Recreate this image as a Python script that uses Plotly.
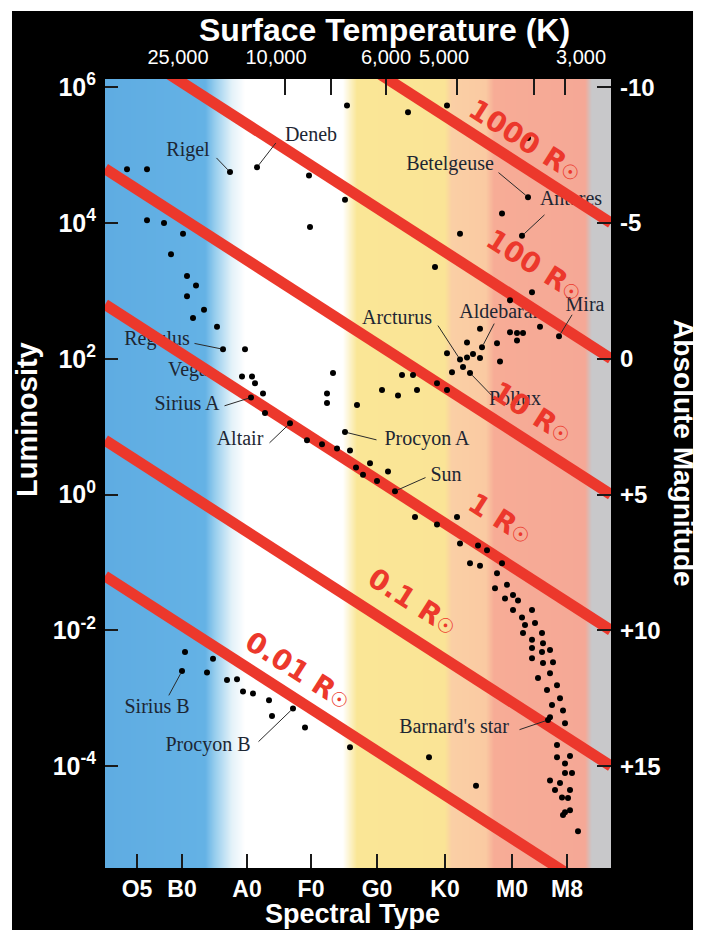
import numpy as np
import plotly.graph_objects as go

# ---------------- data ----------------
# x unit: position along the spectral-type axis (0 = left edge, 50.6 = right edge)
spectral_types = ["O5", "B0", "A0", "F0", "G0", "K0", "M0", "M8"]
spectral_pos = [3.2, 7.7, 14.2, 20.6, 27.2, 34.0, 40.7, 46.2]
temp_labels = ["25,000", "10,000", "6,000", "5,000", "3,000"]
temp_label_pos = [7.3, 17.1, 28.1, 33.9, 47.6]
temp_tick_pos = [18.0, 22.6, 28.1, 35.2, 42.9, 46.0]
lum_exponents = [6, 4, 2, 0, -2, -4]
abs_mag = [-10, -5, 0, 5, 10, 15]
abs_mag_labels = ["-10", "-5", "0", "+5", "+10", "+15"]

radii = [1000, 100, 10, 1, 0.1, 0.01]
radius_labels = ["1000", "100", "10", "1", "0.1", "0.01"]
# log10 L of the 1 R_sun line at the left and right edges of the chart
sun_line_logL_left = 2.8
sun_line_logL_right = -2.0

star_x = [2.2, 4.2, 20.4, 24.2, 24.0, 20.5, 30.3, 34.2, 42.3, 39.7, 35.5, 33.0,
          4.2, 5.9, 7.8, 6.6, 8.2, 9.1, 8.2, 9.9, 8.8, 11.2, 14.0, 14.7, 15.0, 15.8, 16.0,
          42.7, 40.5, 43.5, 37.5, 39.2, 40.5, 41.2, 41.8, 41.2, 36.2, 34.2, 36.2, 36.8, 37.5,
          35.8, 34.7, 39.5, 29.7, 30.8, 27.7, 29.3, 31.2, 33.2, 34.2, 25.2, 22.8, 22.2, 22.2,
          20.2, 21.7, 23.2, 24.5, 25.1, 25.8, 26.5, 27.2, 28.3, 31.0, 33.2, 35.2, 35.5, 37.3,
          38.2, 36.5, 37.5, 39.7, 39.2, 40.2, 39.0, 40.8, 41.3, 40.0, 40.8, 42.7, 41.7, 42.0,
          43.0, 43.7, 41.8, 42.7, 43.8, 44.5, 42.7,
          43.7, 42.7, 44.8, 43.8, 44.5, 43.3, 45.2, 44.2, 45.5, 44.7, 45.8, 44.5, 46.0, 45.2,
          45.2, 46.5, 46.0, 46.7, 46.0, 44.5, 45.5, 46.5, 45.0, 45.7, 46.3, 46.0, 46.5, 45.8, 47.3,
          32.4, 37.1, 24.5,
          8.0, 10.8, 10.2, 12.2, 13.2, 13.8, 14.8, 16.4, 16.7, 20.0]
star_logL = [4.79, 4.79, 4.70, 5.73, 4.34, 3.94, 5.63, 5.73, 5.25, 4.14, 3.84, 3.35,
             4.04, 4.00, 3.84, 3.54, 3.22, 3.08, 2.92, 2.72, 2.60, 2.47, 2.14, 1.74, 1.64, 1.49, 1.20,
             2.98, 2.86, 2.47, 2.44, 2.23, 2.39, 2.38, 2.38, 2.27, 2.24, 2.08, 2.02, 2.07, 2.01,
             1.88, 1.80, 1.96, 1.76, 1.76, 1.54, 1.46, 1.54, 1.64, 1.54, 1.32, 1.79, 1.49, 1.35,
             0.80, 0.74, 0.68, 0.65, 0.40, 0.29, 0.46, 0.20, 0.34, -0.33, -0.44, -0.33, -0.72, -0.75,
             -0.82, -1.01, -1.05, -1.01, -1.16, -1.33, -1.38, -1.48, -1.56, -1.53, -1.70, -1.70, -1.81, -1.92,
             -1.89, -2.04, -2.04, -2.14, -2.19, -2.29, -2.26,
             -2.32, -2.41, -2.47, -2.48, -2.63, -2.70, -2.81, -2.88, -3.00, -3.10, -3.18, -3.28, -3.37, -3.69,
             -3.87, -3.85, -3.96, -4.10, -4.10, -4.21, -4.25, -4.35, -4.35, -4.46, -4.47, -4.68, -4.65, -4.72, -4.96,
             -3.87, -4.29, -3.72,
             -2.32, -2.42, -2.62, -2.73, -2.72, -2.90, -2.93, -3.03, -3.26, -3.43]

named_star = ["Rigel", "Deneb", "Regulus", "Vega", "Sirius A", "Altair", "Procyon A", "Sun",
              "Betelgeuse", "Antares", "Aldebaran", "Arcturus", "Pollux", "Mira",
              "Sirius B", "Procyon B", "Barnard's star"]
named_x = [12.5, 15.2, 11.8, 13.7, 14.6, 18.5, 24.0, 29.0,
           42.3, 41.7, 37.7, 35.5, 36.5, 45.4,
           7.7, 18.8, 44.3]
named_logL = [4.75, 4.82, 2.14, 1.74, 1.43, 1.05, 0.92, 0.05,
              4.38, 3.81, 2.17, 1.99, 1.79, 2.33,
              -2.60, -3.15, -3.32]

# ---------------- layout helpers (positions of texts) ----------------
X_MAX = 50.6
LOG_BOTTOM, LOG_TOP = -5.5, 6.12
label_pos = {  # (x, log10 L) of each star-name text centre
    "Rigel": (8.3, 5.06), "Deneb": (20.6, 5.28), "Regulus": (5.2, 2.27), "Vega": (8.3, 1.82),
    "Sirius A": (8.2, 1.32), "Altair": (13.5, 0.80), "Procyon A": (32.2, 0.80), "Sun": (34.1, 0.27),
    "Betelgeuse": (34.5, 4.85), "Antares": (46.6, 4.34), "Aldebaran": (39.6, 2.67),
    "Arcturus": (29.2, 2.58), "Pollux": (41.0, 1.39), "Mira": (48.0, 2.78),
    "Sirius B": (5.2, -3.15), "Procyon B": (10.3, -3.70), "Barnard's star": (34.9, -3.44)}
pointer_tail = {
    "Rigel": (11.0, 4.98), "Deneb": (17.2, 5.20), "Regulus": (8.8, 2.23), "Sirius A": (11.8, 1.30),
    "Altair": (16.3, 0.74), "Procyon A": (27.3, 0.80), "Sun": (32.2, 0.26), "Betelgeuse": (39.2, 4.76),
    "Antares": (44.1, 4.14), "Aldebaran": (39.0, 2.54), "Arcturus": (33.2, 2.51), "Pollux": (38.8, 1.44),
    "Mira": (46.8, 2.67), "Sirius B": (6.3, -2.98), "Procyon B": (15.2, -3.66),
    "Barnard's star": (41.3, -3.47)}
radius_label_pos = [(42.0, 5.22), (43.0, 3.38), (42.7, 1.21), (39.5, -0.35), (30.7, -1.58), (19.3, -2.59)]

SANS = "Liberation Sans, Arial, sans-serif"
SERIF = "Liberation Serif, DejaVu Serif, serif"
RED = "rgb(236,56,44)"
TICKC = "#1a1a1a"

fig = go.Figure()

# background colour bands (horizontal gradient)
bg_x = np.linspace(0, X_MAX, 507)
band_scale = [
    [0.000, "rgb(95,172,226)"], [0.198, "rgb(100,178,229)"], [0.217, "rgb(150,205,238)"],
    [0.251, "rgb(228,242,249)"], [0.277, "rgb(255,255,255)"], [0.470, "rgb(255,255,255)"],
    [0.498, "rgb(250,230,150)"], [0.672, "rgb(250,228,150)"], [0.686, "rgb(250,207,165)"],
    [0.753, "rgb(250,202,162)"], [0.769, "rgb(247,172,150)"], [0.949, "rgb(245,168,150)"],
    [0.962, "rgb(200,200,202)"], [1.000, "rgb(200,200,202)"]]
fig.add_trace(go.Heatmap(x=bg_x, y=[1e-7, 1e0, 1e8], z=[bg_x, bg_x, bg_x],
                         colorscale=band_scale, zmin=0, zmax=X_MAX, showscale=False,
                         hoverinfo="skip"))

# star name labels (under the red lines)
fig.add_trace(go.Scatter(
    x=[label_pos[n][0] for n in named_star], y=[10 ** label_pos[n][1] for n in named_star],
    text=named_star, mode="text", textposition="middle center",
    textfont=dict(family=SERIF, size=20, color="#1d2633"),
    hoverinfo="skip", showlegend=False))

# constant-radius lines
for r in radii:
    lr = np.log10(r)
    fig.add_trace(go.Scatter(
        x=[0, X_MAX], y=[10 ** (sun_line_logL_left + 2 * lr), 10 ** (sun_line_logL_right + 2 * lr)],
        mode="lines", line=dict(color=RED, width=11), hoverinfo="skip", showlegend=False))

# stars
fig.add_trace(go.Scatter(x=star_x, y=[10 ** v for v in star_logL], mode="markers",
                         marker=dict(color="black", size=6), showlegend=False, hoverinfo="skip"))
fig.add_trace(go.Scatter(x=named_x, y=[10 ** v for v in named_logL], mode="markers",
                         marker=dict(color="black", size=6), showlegend=False,
                         text=named_star, hoverinfo="text"))

# dummy traces so overlay axes exist
for xa, ya, xv, yv in [("x2", "y", 25, 1), ("x3", "y", 25, 1), ("x", "y2", 25, 0)]:
    fig.add_trace(go.Scatter(x=[xv], y=[yv], xaxis=xa, yaxis=ya, mode="markers",
                             marker=dict(opacity=0), hoverinfo="skip", showlegend=False))

ann = []
# pointer lines
for n, sx, sl in zip(named_star, named_x, named_logL):
    if n not in pointer_tail:
        continue
    tx, tl = pointer_tail[n]
    ann.append(dict(x=sx, y=sl, ax=tx, ay=tl, xref="x", yref="y", axref="x", ayref="y",
                    text="", showarrow=True, arrowhead=0, arrowwidth=1, arrowcolor="#2a2a2a",
                    standoff=3, font=dict(size=1)))
# radius labels
for lab, (lx, ll) in zip(radius_labels, radius_label_pos):
    ann.append(dict(x=lx, y=ll, xref="x", yref="y", showarrow=False, textangle=32.5,
                    xanchor="center", yanchor="middle",
                    text="<b>" + lab + " R<span style='font-size:20px'>☉</span></b>",
                    font=dict(family="DejaVu Sans, sans-serif", size=28, color=RED)))
# axis titles
title_common = dict(xref="paper", yref="paper", showarrow=False, xanchor="center", yanchor="middle")
ann += [
    dict(x=0.553, y=1.062, text="<b>Surface Temperature (K)</b>",
         font=dict(family=SANS, size=32, color="white"), **title_common),
    dict(x=0.49, y=-0.058, text="<b>Spectral Type</b>",
         font=dict(family=SANS, size=27, color="white"), **title_common),
    dict(x=-0.154, y=0.568, textangle=-90, text="<b>Luminosity</b>",
         font=dict(family=SANS, size=29, color="white"), **title_common),
    dict(x=1.142, y=0.526, textangle=90, text="<b>Absolute Magnitude</b>",
         font=dict(family=SANS, size=28, color="white"), **title_common),
]

# page has an 8px body margin: figure is placed at page (8, 8); plot area at page x 105-611, y 79-868
fig.update_layout(
    width=698, height=922, margin=dict(l=97, r=95, t=71, b=62),
    paper_bgcolor="white", plot_bgcolor="black", showlegend=False,
    annotations=ann,
    shapes=[dict(type="rect", xref="paper", yref="paper", x0=-0.1838, x1=1.1621,
                 y0=-0.08, y1=1.0862, fillcolor="black", line=dict(width=0), layer="below")],
    xaxis=dict(range=[0, X_MAX], tickvals=spectral_pos,
               ticktext=["<b>" + s + "</b>" for s in spectral_types], tickangle=0,
               ticks="inside", ticklen=14, tickwidth=2, tickcolor=TICKC,
               tickfont=dict(family=SANS, size=23, color="white"), ticklabelstandoff=5,
               showgrid=False, zeroline=False, showline=False, automargin=False),
    xaxis2=dict(range=[0, X_MAX], overlaying="x", side="top", anchor="y", tickvals=temp_label_pos,
                ticktext=temp_labels, ticks="", tickangle=0,
                tickfont=dict(family=SANS, size=20, color="white"),
                ticklabelstandoff=10, showgrid=False, zeroline=False, showline=False, automargin=False),
    xaxis3=dict(range=[0, X_MAX], overlaying="x", side="top", anchor="y", tickvals=temp_tick_pos,
                showticklabels=False, ticks="inside", ticklen=16, tickwidth=2, tickcolor=TICKC,
                showgrid=False, zeroline=False, showline=False, automargin=False),
    yaxis=dict(type="log", range=[LOG_BOTTOM, LOG_TOP], tickvals=[10 ** e for e in lum_exponents],
               ticktext=["<b>10<sup>%d</sup></b>" % e for e in lum_exponents],
               ticks="inside", ticklen=13, tickwidth=2, tickcolor=TICKC,
               tickfont=dict(family=SANS, size=25, color="white"), ticklabelstandoff=8,
               showgrid=False, zeroline=False, showline=False, automargin=False),
    yaxis2=dict(range=[5 - 2.5 * LOG_BOTTOM, 5 - 2.5 * LOG_TOP], overlaying="y", side="right",
                anchor="x", tickvals=abs_mag, ticktext=["<b>" + t + "</b>" for t in abs_mag_labels],
                ticks="inside", ticklen=14, tickwidth=2, tickcolor=TICKC,
                tickfont=dict(family=SANS, size=24, color="white"), ticklabelstandoff=8,
                showgrid=False, zeroline=False, showline=False, automargin=False),
)

fig.write_html("out.html")
